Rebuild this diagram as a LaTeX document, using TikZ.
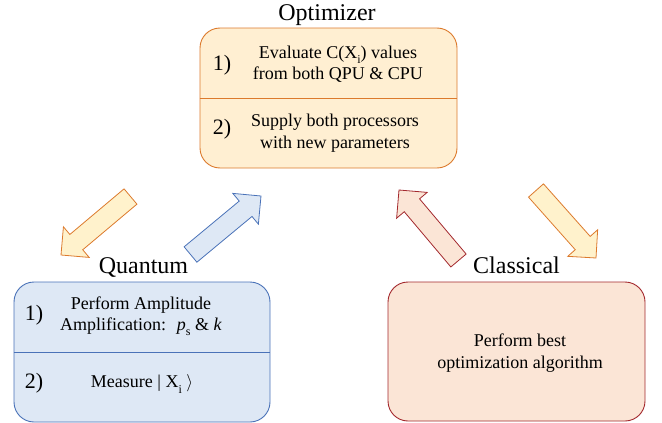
\documentclass[tikz,border=0pt]{standalone}
\usepackage{fontspec}
\setmainfont{Liberation Serif}
\usetikzlibrary{calc}
\definecolor{optfill}{HTML}{FFEFD2}
\definecolor{optdraw}{HTML}{DC7A2C}
\definecolor{arrfill}{HTML}{FFF2CC}
\definecolor{qfill}{HTML}{DEE8F5}
\definecolor{qdraw}{HTML}{4A72B8}
\definecolor{cfill}{HTML}{FBE5D6}
\definecolor{cdraw}{HTML}{A3282D}
\tikzset{
  panel/.style={draw, line width=0.9pt, rounded corners=20pt, inner sep=0pt},
  title/.style={font=\fontsize{24}{28}\selectfont, anchor=base, inner sep=0pt},
  body/.style={font=\fontsize{18}{21.5}\selectfont, align=center, inner sep=0pt},
  num/.style={font=\fontsize{22}{26}\selectfont, inner sep=0pt},
  divider/.style={line width=0.9pt},
  orangearrow/.style={draw=optdraw, fill=arrfill, line width=0.8pt, line join=miter},
  bluearrow/.style={draw=qdraw, fill=qfill, line width=0.8pt, line join=miter},
  redarrow/.style={draw=cdraw, fill=cfill, line width=0.8pt, line join=miter}
}
\newcommand{\fatarrow}[3]{%
  \coordinate (fa-h) at ($(#2)!20pt!(#1)$);
  \draw[#3] ($(#1)!10pt!90:(#2)$) -- ($(fa-h)!10pt!90:(#2)$) -- ($(fa-h)!20pt!90:(#2)$)
    -- (#2) -- ($(fa-h)!20pt!-90:(#2)$) -- ($(fa-h)!10pt!-90:(#2)$) -- ($(#1)!10pt!-90:(#2)$) -- cycle;}
\newcommand{\sub}[1]{\raisebox{-0.28em}{\fontsize{12}{12}\selectfont #1}}
\begin{document}
\begin{tikzpicture}[x=1pt,y=-1pt]
\useasboundingbox (0,0) rectangle (662,423);
% Optimizer
\node[panel, draw=optdraw, fill=optfill, minimum width=257pt, minimum height=140pt] (opt) at (328.5,98) {};
\draw[divider, draw=optdraw] (opt.west) -- (opt.east);
\node[title] (opttitle) at (327,20) {Optimizer};
\node[num] (optn1) at (222,65) {1)};
\node[body] (optt1) at (338,64) {Evaluate C(X\sub{i}) values\\from both QPU \& CPU};
\node[num] (optn2) at (222,129) {2)};
\node[body] (optt2) at (335,133) {Supply both processors\\with new parameters};
% Quantum
\node[panel, draw=qdraw, fill=qfill, minimum width=256pt, minimum height=140pt] (qu) at (142,352) {};
\draw[divider, draw=qdraw] (qu.west) -- (qu.east);
\node[title] (qutitle) at (143.5,273) {Quantum};
\node[num] (qun1) at (34,315) {1)};
\node[body] (qut1) at (141,316) {Perform Amplitude\\Amplification:\hspace{0.6em}\textit{p}\sub{s} \& \textit{k}};
\node[num] (qun2) at (34,383) {2)};
\node[body] (qut2) at (142,384) {Measure | X\sub{i} $\rangle$};
% Classical
\node[panel, draw=cdraw, fill=cfill, minimum width=257pt, minimum height=139pt] (cl) at (516.5,351.5) {};
\node[title] (cltitle) at (516.5,273) {Classical};
\node[body] (clt) at (520,353) {Perform best\\optimization algorithm};
% Arrows
\coordinate (a1t) at (130.5,196.5); \coordinate (a1h) at (61,255);
\coordinate (a2t) at (190.5,254.5); \coordinate (a2h) at (261,196);
\coordinate (a3t) at (458.5,260.5); \coordinate (a3h) at (399,190);
\coordinate (a4t) at (536,190.5);   \coordinate (a4h) at (596,258);
\fatarrow{a1t}{a1h}{orangearrow}
\fatarrow{a2t}{a2h}{bluearrow}
\fatarrow{a3t}{a3h}{redarrow}
\fatarrow{a4t}{a4h}{orangearrow}
\end{tikzpicture}
\end{document}
